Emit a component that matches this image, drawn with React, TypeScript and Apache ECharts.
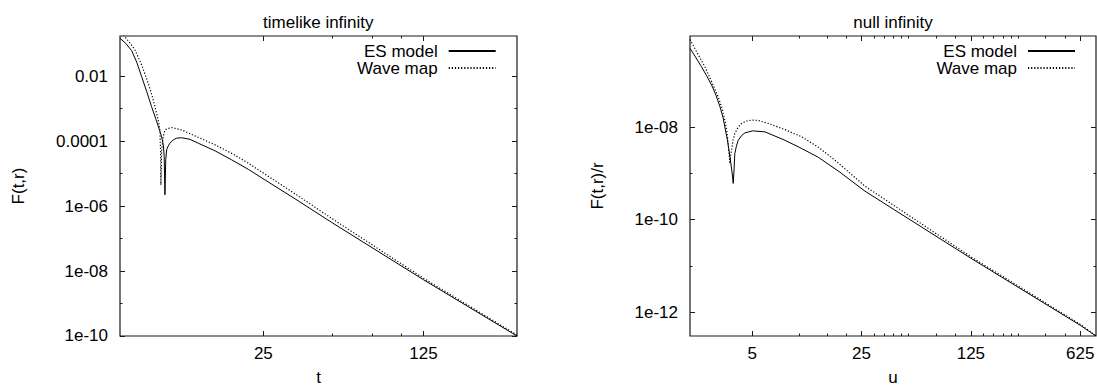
import React, { useEffect, useRef } from "react";
import * as echarts from "echarts";

// ---- data: timelike infinity (t, F(t,r)) ----
const T_ES = [5.92, 6.28, 6.65, 7.0, 7.36, 7.74, 8.13, 8.5, 8.8, 9.0, 9.16, 9.23, 9.3, 9.375, 9.46, 9.61, 9.78, 10.11, 10.46, 11.0, 11.96, 13.0, 15.4, 18.2, 21.5, 25.4, 34.4, 50, 125, 320];
const F_ES = [0.148, 0.102, 0.0622, 0.0275, 0.00972, 3.4e-3, 1.16e-3, 4.69e-4, 2.23e-4, 1.36e-4, 7.16e-5, 3.36e-5, 2.23e-6, 2.66e-5, 5.4e-5, 7.16e-5, 8.67e-5, 1.1e-4, 1.24e-4, 1.28e-4, 1.14e-4, 8.67e-5, 5.04e-5, 2.66e-5, 1.36e-5, 6.44e-6, 1.68e-6, 3.06e-7, 5.4e-9, 1.0e-10];
const T_WAVE = [5.92, 6.22, 6.54, 6.88, 7.36, 7.86, 8.2, 8.55, 8.71, 8.84, 8.9, 8.93, 9.0, 9.14, 9.3, 9.59, 9.98, 11.0, 12.57, 15.4, 18.2, 21.5, 26.7, 34.4, 50, 125, 320];
const F_WAVE = [0.27, 0.165, 0.106, 0.0644, 0.0223, 6.1e-3, 2.31e-3, 7.3e-4, 4.2e-4, 2.23e-4, 5.4e-5, 4.5e-6, 5.4e-5, 1.39e-4, 2.23e-4, 2.46e-4, 2.62e-4, 2.23e-4, 1.46e-4, 7.7e-5, 4.22e-5, 2.1e-5, 7.69e-6, 2.39e-6, 4.07e-7, 6.0e-9, 1.07e-10];

// ---- data: null infinity (u, F(t,r)/r) ----
const U_ES = [2.0, 2.15, 2.37, 2.55, 2.75, 2.93, 3.11, 3.25, 3.34, 3.47, 3.6, 3.7, 3.78, 3.83, 3.87, 3.96, 4.07, 4.27, 4.49, 5.03, 6.03, 8.09, 10.09, 13.2, 18.2, 26.3, 125, 625, 789];
const G_ES = [5.04e-7, 3.43e-7, 2.01e-7, 1.3e-7, 8.1e-8, 4.92e-8, 2.75e-8, 1.64e-8, 1.01e-8, 5.24e-9, 2.28e-9, 1.17e-9, 6.07e-10, 1.3e-9, 2.7e-9, 3.88e-9, 5.2e-9, 6.54e-9, 7.5e-9, 8.3e-9, 7.9e-9, 5.2e-9, 3.61e-9, 2.24e-9, 1.06e-9, 4.13e-10, 1.47e-11, 5.24e-13, 3.07e-13];
const U_WAVE = [2.0, 2.21, 2.49, 2.74, 3.03, 3.2, 3.34, 3.44, 3.51, 3.56, 3.6, 3.64, 3.69, 3.77, 3.87, 4.05, 4.28, 4.56, 4.99, 5.44, 6.33, 8.09, 10.35, 13.2, 16.9, 26.3, 125, 625, 789];
const G_WAVE = [7.8e-7, 4.19e-7, 2.01e-7, 9.9e-8, 4.5e-8, 2.58e-8, 1.42e-8, 8.2e-9, 4.4e-9, 2.48e-9, 1.64e-9, 2.48e-9, 3.2e-9, 5.24e-9, 7.3e-9, 9.75e-9, 1.2e-8, 1.35e-8, 1.42e-8, 1.4e-8, 1.2e-8, 8.83e-9, 6.17e-9, 3.7e-9, 1.93e-9, 5.3e-10, 1.58e-11, 5.5e-13, 3.1e-13];

// ---- ticks ----
const XL_MAJOR = [25, 125];
const XL_LABELS = ["25", "125"];
const XL_MINOR = [50, 75, 100];
const XR_MAJOR = [5, 25, 125, 625];
const XR_LABELS = ["5", "25", "125", "625"];
const XR_MINOR = [10, 15, 20, 30, 35, 40, 45, 50, 75, 100, 150, 175, 200, 225, 250, 375, 500];
const YL_MAJOR = [1e-10, 1e-8, 1e-6, 1e-4, 1e-2];
const YL_LABELS = ["1e-10", "1e-08", "1e-06", "0.0001", "0.01"];
const YL_MINOR = [1e-9, 1e-7, 1e-5, 1e-3];
const YR_MAJOR = [1e-12, 1e-10, 1e-8];
const YR_LABELS = ["1e-12", "1e-10", "1e-08"];
const YR_MINOR = [1e-11, 1e-9];

const SERIES_NAMES = ["ES model", "Wave map"];

const FONT = "'Liberation Sans', Arial, Helvetica, sans-serif";
const INK = "#1a1a1a";

function lookup(vals: number[], labels: string[]) {
  return (v: number) => {
    for (let i = 0; i < vals.length; i++) {
      if (Math.abs(Math.log(v / vals[i])) < 1e-3) return labels[i];
    }
    return "";
  };
}

function makeAxes(
  dim: "x" | "y",
  gridIndex: number,
  base: number,
  min: number,
  max: number,
  major: number[],
  labels: string[],
  minor: number[],
  name: string,
  nameGap: number,
  labelMargin: number,
  nameLineHeight: number
) {
  const posA = dim === "x" ? "bottom" : "left";
  const posB = dim === "x" ? "top" : "right";
  const common = {
    type: "log",
    logBase: base,
    gridIndex,
    min,
    max,
    axisLine: { show: false },
    splitLine: { show: false },
    minorTick: { show: false },
  };
  const tick = (vals: number[], len: number) => ({
    show: true,
    inside: true,
    length: len,
    customValues: vals,
    lineStyle: { color: INK, width: 1 },
  });
  return [
    {
      ...common,
      position: posA,
      axisTick: tick(major, 5),
      axisLabel: {
        show: true,
        customValues: major,
        formatter: lookup(major, labels),
        margin: labelMargin,
        fontSize: 17,
        color: "#000",
        fontFamily: FONT,
      },
      name,
      nameLocation: "middle",
      nameGap,
      nameTextStyle: { fontSize: 17, color: "#000", fontFamily: FONT, lineHeight: nameLineHeight },
    },
    { ...common, position: posB, axisTick: tick(major, 5), axisLabel: { show: false } },
    { ...common, position: posA, axisTick: tick(minor, 2.5), axisLabel: { show: false } },
    { ...common, position: posB, axisTick: tick(minor, 2.5), axisLabel: { show: false } },
  ];
}

function pairs(xs: number[], ys: number[]) {
  return xs.map((x, i) => [x, ys[i]]);
}

export default function App() {
  const ref = useRef<HTMLDivElement>(null);
  useEffect(() => {
    if (!ref.current) return;
    const chart = echarts.init(ref.current, undefined, { renderer: "svg" });

    const solid = { color: "#000", width: 1, type: "solid" as const };
    const dotted = { color: "#000", width: 1.2, type: [1.2, 1.9] };

    const xAxis = [
      ...makeAxes("x", 0, 5, 5.92, 320, XL_MAJOR, XL_LABELS, XL_MINOR, "t", 34, 9, 14),
      ...makeAxes("x", 1, 5, 2, 789, XR_MAJOR, XR_LABELS, XR_MINOR, "u", 34, 9, 14),
    ];
    const yAxis = [
      ...makeAxes("y", 0, 10, 0.999e-10, 0.174, YL_MAJOR, YL_LABELS, YL_MINOR, "F(t,r)", 93, 12, 17),
      ...makeAxes("y", 1, 10, 3.07e-13, 9.3e-7, YR_MAJOR, YR_LABELS, YR_MINOR, "F(t,r)/r", 84, 12, 17),
    ];

    const legendBase = {
      data: SERIES_NAMES,
      orient: "vertical",
      align: "right",
      top: 42.5,
      padding: 0,
      itemWidth: 47,
      itemHeight: 10,
      itemGap: 0,
      selectedMode: false,
      itemStyle: { color: "rgba(0,0,0,0)", borderWidth: 0, opacity: 0 },
      textStyle: { fontSize: 17, color: "#000", fontFamily: FONT, lineHeight: 16, padding: [0, 6, 0, 0] },
    };

    const titleStyle = { fontSize: 17, fontWeight: "normal", color: "#000", fontFamily: FONT, lineHeight: 17 };
    const lineCommon = { type: "line", symbol: "none" };
    const gridCommon = {
      top: 36,
      height: 300,
      show: true,
      borderColor: INK,
      borderWidth: 1.2,
      backgroundColor: "transparent",
      containLabel: false,
      outerBoundsMode: "none",
    };

    chart.setOption({
      animation: false,
      backgroundColor: "#fff",
      title: [
        { text: "timelike infinity", left: 318.3, top: 14, textAlign: "center", padding: 0, textStyle: titleStyle },
        { text: "null infinity", left: 893, top: 14, textAlign: "center", padding: 0, textStyle: titleStyle },
      ],
      legend: [
        { ...legendBase, right: 600.3 },
        { ...legendBase, right: 21 },
      ],
      grid: [
        { ...gridCommon, left: 120, width: 397 },
        { ...gridCommon, left: 690, width: 406 },
      ],
      xAxis,
      yAxis,
      series: [
        { ...lineCommon, name: "ES model", xAxisIndex: 0, yAxisIndex: 0, lineStyle: solid, data: pairs(T_ES, F_ES) },
        { ...lineCommon, name: "Wave map", xAxisIndex: 0, yAxisIndex: 0, lineStyle: dotted, data: pairs(T_WAVE, F_WAVE) },
        { ...lineCommon, name: "ES model", xAxisIndex: 4, yAxisIndex: 4, lineStyle: solid, data: pairs(U_ES, G_ES) },
        { ...lineCommon, name: "Wave map", xAxisIndex: 4, yAxisIndex: 4, lineStyle: dotted, data: pairs(U_WAVE, G_WAVE) },
      ],
    });
    return () => chart.dispose();
  }, []);
  return (
    <div
      ref={ref}
      style={{ position: "fixed", left: 0, top: 0, width: 1097, height: 386, background: "#fff" }}
    />
  );
}
